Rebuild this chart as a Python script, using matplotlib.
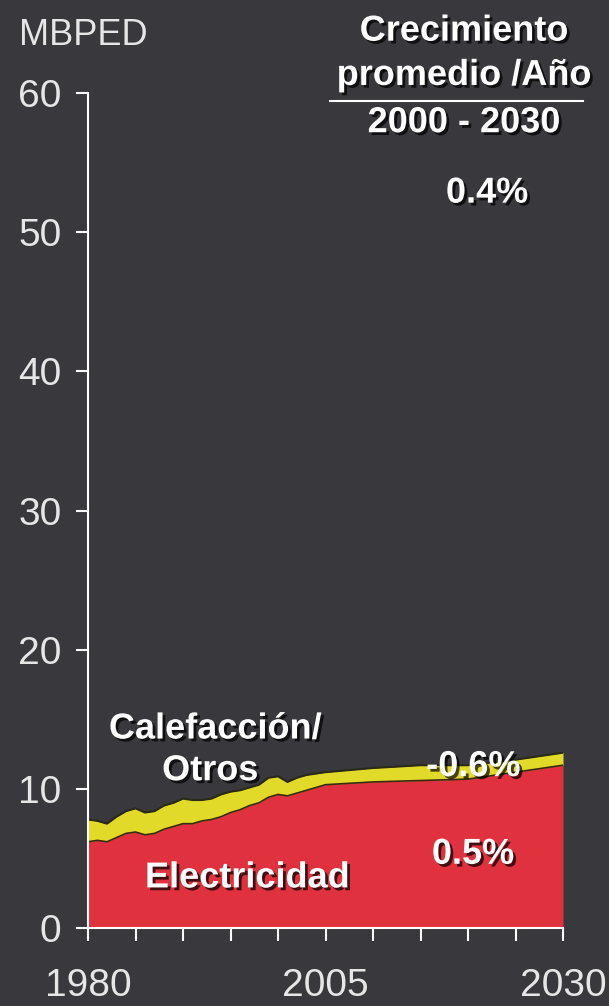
import numpy as np
import matplotlib.pyplot as plt
import matplotlib.patheffects as pe

# data (MBPED)
years = [1980, 1981, 1982, 1983, 1984, 1985, 1986, 1987, 1988, 1989,
         1990, 1991, 1992, 1993, 1994, 1995, 1996, 1997, 1998, 1999,
         2000, 2001, 2002, 2003, 2004, 2005, 2010, 2015, 2020, 2025, 2030]
electricidad = [6.2, 6.3, 6.2, 6.5, 6.8, 6.9, 6.7, 6.8, 7.1, 7.3,
                7.5, 7.5, 7.7, 7.8, 8.0, 8.3, 8.5, 8.8, 9.0, 9.4,
                9.6, 9.5, 9.7, 9.9, 10.1, 10.3, 10.5, 10.6, 10.7, 11.2, 11.7]
total = [7.8, 7.7, 7.5, 8.0, 8.4, 8.6, 8.3, 8.4, 8.8, 9.0,
         9.3, 9.2, 9.2, 9.3, 9.6, 9.8, 9.9, 10.1, 10.3, 10.8,
         10.9, 10.5, 10.8, 11.0, 11.1, 11.2, 11.5, 11.7, 11.7, 12.1, 12.6]

yticks = [0, 10, 20, 30, 40, 50, 60]
xlabels = [1980, 2005, 2030]

bg = '#38383d'
fig = plt.figure(figsize=(6.09, 10.06), dpi=100, facecolor=bg)
ax = fig.add_axes([0.1445, 0.0775, 0.78, 0.83], facecolor=bg)

ax.fill_between(years, 0, electricidad, color='#e0323e', lw=0)
ax.fill_between(years, electricidad, total, color='#e2da28', lw=0)
ax.plot(years, total, color='#2a2a18', lw=1.5)
ax.plot(years, electricidad, color='#3a2a10', lw=1.2)

ax.set_xlim(1980, 2030)
ax.set_ylim(0, 60)
ax.set_yticks(yticks)
ax.set_xticks(xlabels)
ax.set_xticks(range(1980, 2031, 5), minor=True)

for side in ['top', 'right']:
    ax.spines[side].set_visible(False)
for side in ['left', 'bottom']:
    ax.spines[side].set_color('white')
    ax.spines[side].set_linewidth(1.5)

font = ['Liberation Sans', 'DejaVu Sans']
ax.tick_params(axis='both', which='both', color='white', width=1.5,
               length=9, direction='out')
ax.tick_params(axis='y', labelsize=28, labelcolor='#e6e6e6', pad=10)
ax.tick_params(axis='x', labelsize=28, labelcolor='#e6e6e6', pad=20)
for lab in ax.get_xticklabels() + ax.get_yticklabels():
    lab.set_family(font)

fig.text(0.032, 0.965, 'MBPED', fontsize=26, color='#e6e6e6',
         family=font, va='center', ha='left')

shadow = [pe.SimplePatchShadow(offset=(2, -2), shadow_rgbFace='black', alpha=0.7),
          pe.Normal()]
hdr = dict(fontsize=26, color='white', weight='bold', family=font,
           ha='center', va='center', path_effects=shadow)
fig.text(0.762, 0.969, 'Crecimiento', **hdr)
fig.text(0.762, 0.925, 'promedio /Año', **hdr)
fig.text(0.762, 0.878, '2000 - 2030', **hdr)
fig.add_artist(plt.Line2D([0.542, 0.957], [0.9, 0.9], color='white', lw=1.5))
fig.text(0.80, 0.808, '0.4%', **hdr)

lbl = dict(fontsize=26, color='white', weight='bold', family=font,
           va='center', path_effects=shadow)
ax.text(1982.2, 14.3, 'Calefacción/', ha='left', **lbl)
ax.text(1987.8, 11.3, 'Otros', ha='left', **lbl)
ax.text(2015.6, 11.6, '-0.6%', ha='left', **lbl)
ax.text(2016.2, 5.3, '0.5%', ha='left', **lbl)
ax.text(1986, 3.6, 'Electricidad', ha='left', **lbl)

plt.savefig('out.png', dpi=100, facecolor=bg)
